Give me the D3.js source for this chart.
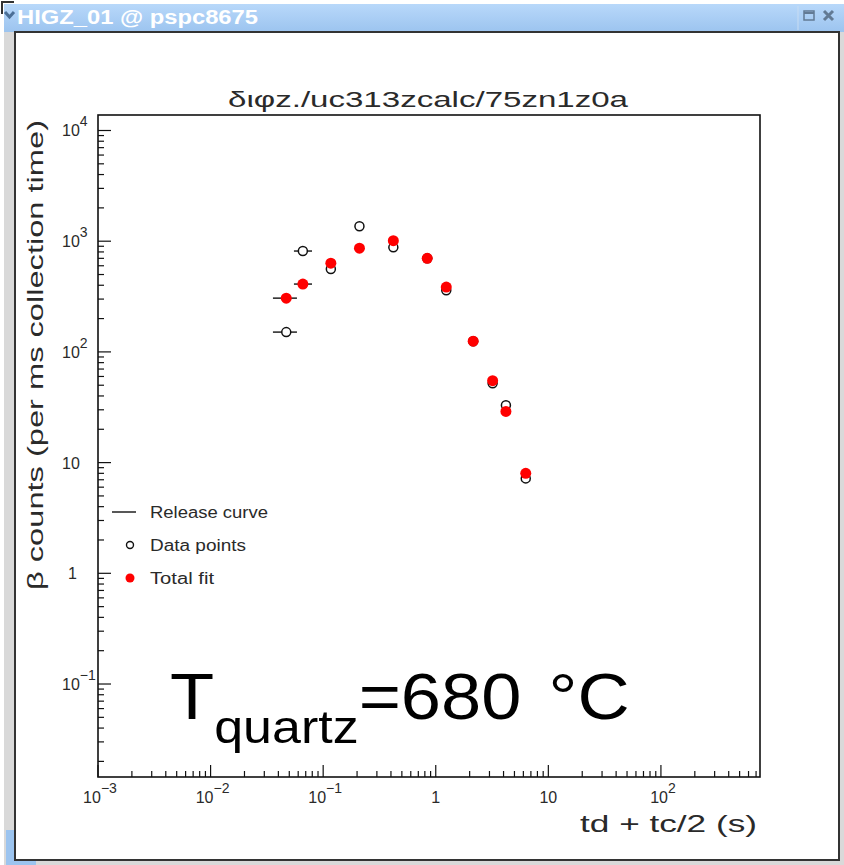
<!DOCTYPE html>
<html>
<head>
<meta charset="utf-8">
<script src="https://cdn.jsdelivr.net/npm/d3@7"></script>
<style>
  body { margin: 0; background: #fff; }
  svg { display: block; }
  .lbl { font-family: "Liberation Sans", Arial, sans-serif; fill: #2a2a2a; }
</style>
</head>
<body>
<div id="svg-container"></div>
<script>
////////////////////////////////////////////////////////////////////
////////////////////////////  Data  ////////////////////////////////
// time axis (s) for each measurement
const times = [0.047, 0.066, 0.117, 0.21, 0.42, 0.84, 1.24, 2.15, 3.2, 4.2, 6.3];
// measured counts (open circles)
const dataCounts = [151, 815, 560, 1365, 880, 700, 360, 125, 52, 33, 7.2];
// total fit (red points)
const fitCounts = [306, 410, 633, 865, 1010, 700, 385, 125, 55, 29, 8.0];
// horizontal bars (collection window) on the first two points
const barLo = [0.0358, 0.055];
const barHi = [0.0585, 0.0796];

const yTickExp = [4, 3, 2, 1, 0, -1];
const xTickExp = [-3, -2, -1, 0, 1, 2];
const legendItems = ["Release curve", "Data points", "Total fit"];
const legendLen = [118, 96, 64];

////////////////////////////////////////////////////////////////////
////////////////////////////  Init  ////////////////////////////////
const width = 844, height = 865;
const svg = d3.select("#svg-container").append("svg")
  .attr("width", width).attr("height", height);

const defs = svg.append("defs");
const grad = defs.append("linearGradient").attr("id", "bar")
  .attr("x1", 0).attr("y1", 0).attr("x2", 0).attr("y2", 1);
grad.append("stop").attr("offset", "0%").attr("stop-color", "#b8d8fa");
grad.append("stop").attr("offset", "100%").attr("stop-color", "#9cc4ef");

// window frame
svg.append("rect").attr("x", 0).attr("y", 0).attr("width", width).attr("height", height).attr("fill", "#fff");
svg.append("rect").attr("x", 4).attr("y", 4).attr("width", 840).attr("height", 861).attr("fill", "#d9d9d9");
svg.append("rect").attr("x", 4).attr("y", 4).attr("width", 840).attr("height", 28).attr("fill", "url(#bar)");
svg.append("path").attr("d", "M2,14 L2,2 L14,2").attr("fill", "none").attr("stroke", "#333").attr("stroke-width", 2);
svg.append("rect").attr("x", 15).attr("y", 32).attr("width", 824).attr("height", 828)
  .attr("fill", "#fff").attr("stroke", "#333").attr("stroke-width", 2);
svg.append("rect").attr("x", 6).attr("y", 830).attr("width", 8).attr("height", 35).attr("fill", "#9cc4ef");
svg.append("rect").attr("x", 6).attr("y", 861).attr("width", 30).attr("height", 4).attr("fill", "#9cc4ef");

// title bar
svg.append("path").attr("d", "M5,12 L9.5,17 L14,12").attr("fill", "none")
  .attr("stroke", "#4b6f96").attr("stroke-width", 3);
svg.append("text").attr("x", 17).attr("y", 24).text("HIGZ_01 @ pspc8675")
  .attr("font-family", "Liberation Sans, Arial, sans-serif").attr("font-weight", "bold")
  .attr("font-size", 20).attr("textLength", 241).attr("lengthAdjust", "spacingAndGlyphs")
  .attr("fill", "#fff");
svg.append("line").attr("x1", 798).attr("x2", 798).attr("y1", 6).attr("y2", 30).attr("stroke", "#c8dcf2");
svg.append("rect").attr("x", 804).attr("y", 11).attr("width", 10).attr("height", 9)
  .attr("fill", "none").attr("stroke", "#627a94").attr("stroke-width", 1.5);
svg.append("line").attr("x1", 804).attr("x2", 814).attr("y1", 13).attr("y2", 13).attr("stroke", "#627a94").attr("stroke-width", 2);
svg.append("path").attr("d", "M824,11 L833,20 M833,11 L824,20").attr("stroke", "#627a94").attr("stroke-width", 3);

// plot frame
const frame = { left: 98, right: 760, top: 115, bottom: 777 };

// scale
const x = d3.scaleLog().domain([1e-3, Math.pow(10, 2.88)]).range([frame.left, frame.right]);
const y = d3.scaleLog().domain([Math.pow(10, -1.84), Math.pow(10, 4.14)]).range([frame.bottom, frame.top]);

const g = svg.append("g");

g.append("rect")
  .attr("x", frame.left).attr("y", frame.top)
  .attr("width", frame.right - frame.left).attr("height", frame.bottom - frame.top)
  .attr("fill", "none").attr("stroke", "#111").attr("stroke-width", 1.6);

//axis (ticks inside, minor 2..9)
const yTicks = y.ticks().filter((d) => d >= y.domain()[0] && d <= y.domain()[1]);
g.selectAll(".ytick").data(yTicks).enter().append("line")
  .attr("x1", frame.left)
  .attr("x2", (d) => frame.left + (isDecade(d) ? 13 : 6))
  .attr("y1", (d) => y(d)).attr("y2", (d) => y(d))
  .attr("stroke", "#111").attr("stroke-width", 1.2);

const xTicks = x.ticks().filter((d) => d >= x.domain()[0] && d <= x.domain()[1]);
g.selectAll(".xtick").data(xTicks).enter().append("line")
  .attr("x1", (d) => x(d)).attr("x2", (d) => x(d))
  .attr("y1", frame.bottom)
  .attr("y2", (d) => frame.bottom - (isDecade(d) ? 12 : 6))
  .attr("stroke", "#111").attr("stroke-width", 1.2);

function isDecade(v) {
  const e = Math.log10(v);
  return Math.abs(e - Math.round(e)) < 1e-6;
}

// tick labels
function powLabel(sel, e) {
  if (e === 0) sel.append("tspan").text("1");
  else if (e === 1) sel.append("tspan").text("10");
  else {
    sel.append("tspan").text("10");
    sel.append("tspan").attr("dy", -10).attr("font-size", 14).text(e < 0 ? "\u2212" + -e : e);
  }
}

yTickExp.forEach((e) => {
  const t = g.append("text").attr("class", "lbl").attr("font-size", 16)
    .attr("x", e === 0 ? 68 : 62).attr("y", y(Math.pow(10, e)) + 6);
  powLabel(t, e);
});

xTickExp.forEach((e) => {
  const t = g.append("text").attr("class", "lbl").attr("font-size", 16)
    .attr("text-anchor", "middle")
    .attr("x", x(Math.pow(10, e)) + (e < 0 || e > 1 ? 2 : 0)).attr("y", 803);
  powLabel(t, e);
});

// titles
svg.append("text").attr("class", "lbl")
  .attr("x", 228).attr("y", 107)
  .attr("font-size", 22).attr("textLength", 400).attr("lengthAdjust", "spacingAndGlyphs")
  .text("\u03b4\u03b9\u03c6z./uc313zcalc/75zn1z0a");

svg.append("text").attr("class", "lbl")
  .attr("transform", "translate(43, 355) rotate(-90)")
  .attr("text-anchor", "middle").attr("font-size", 22)
  .attr("textLength", 470).attr("lengthAdjust", "spacingAndGlyphs")
  .text("\u03b2 counts (per ms collection time)");

svg.append("text").attr("class", "lbl")
  .attr("x", 757).attr("y", 832).attr("text-anchor", "end").attr("font-size", 24)
  .attr("textLength", 177).attr("lengthAdjust", "spacingAndGlyphs")
  .text("td + tc/2 (s)");

// horizontal bars
const bars = barLo.map((lo, i) => ({ lo, hi: barHi[i], t: times[i] }));
g.selectAll(".bar-data").data(bars).enter().append("line")
  .attr("x1", (d) => x(d.lo)).attr("x2", (d) => x(d.hi))
  .attr("y1", (d, i) => y(dataCounts[i])).attr("y2", (d, i) => y(dataCounts[i]))
  .attr("stroke", "#111").attr("stroke-width", 1.4);
g.selectAll(".bar-fit").data(bars).enter().append("line")
  .attr("x1", (d) => x(d.lo)).attr("x2", (d) => x(d.hi))
  .attr("y1", (d, i) => y(fitCounts[i])).attr("y2", (d, i) => y(fitCounts[i]))
  .attr("stroke", "#111").attr("stroke-width", 1.4);

// points
g.selectAll(".pt-data").data(times).enter().append("circle")
  .attr("cx", (d) => x(d)).attr("cy", (d, i) => y(dataCounts[i]))
  .attr("r", 4.5).attr("fill", "#fff").attr("stroke", "#111").attr("stroke-width", 1.5);

g.selectAll(".pt-fit").data(times).enter().append("circle")
  .attr("cx", (d) => x(d)).attr("cy", (d, i) => y(fitCounts[i]))
  .attr("r", 5.5).attr("fill", "#f00");

// legend
const leg = g.append("g").attr("transform", "translate(112, 512)");
leg.append("line").attr("x1", 0).attr("x2", 24).attr("y1", 0).attr("y2", 0)
  .attr("stroke", "#111").attr("stroke-width", 1.4);
leg.append("circle").attr("cx", 18).attr("cy", 33).attr("r", 3.5)
  .attr("fill", "#fff").attr("stroke", "#111").attr("stroke-width", 1.4);
leg.append("circle").attr("cx", 18).attr("cy", 66).attr("r", 4.5).attr("fill", "#f00");
leg.selectAll(".leg-text").data(legendItems).enter().append("text")
  .attr("class", "lbl").attr("x", 38).attr("y", (d, i) => i * 33 + 6)
  .attr("font-size", 16).attr("textLength", (d, i) => legendLen[i])
  .attr("lengthAdjust", "spacingAndGlyphs").text((d) => d);

// annotation (stretched horizontally like the screenshot)
const ann = svg.append("text").attr("transform", "translate(170, 719) scale(1.13, 1)")
  .attr("font-family", "Liberation Sans, Arial, sans-serif").attr("fill", "#000");
ann.append("tspan").attr("font-size", 64).text("T");
ann.append("tspan").attr("font-size", 46).attr("dy", 24).text("quartz");
ann.append("tspan").attr("font-size", 64).attr("dy", -24).text("=680");
ann.append("tspan").attr("font-size", 64).attr("dx", 24).text("\u00b0C");
</script>
</body>
</html>
